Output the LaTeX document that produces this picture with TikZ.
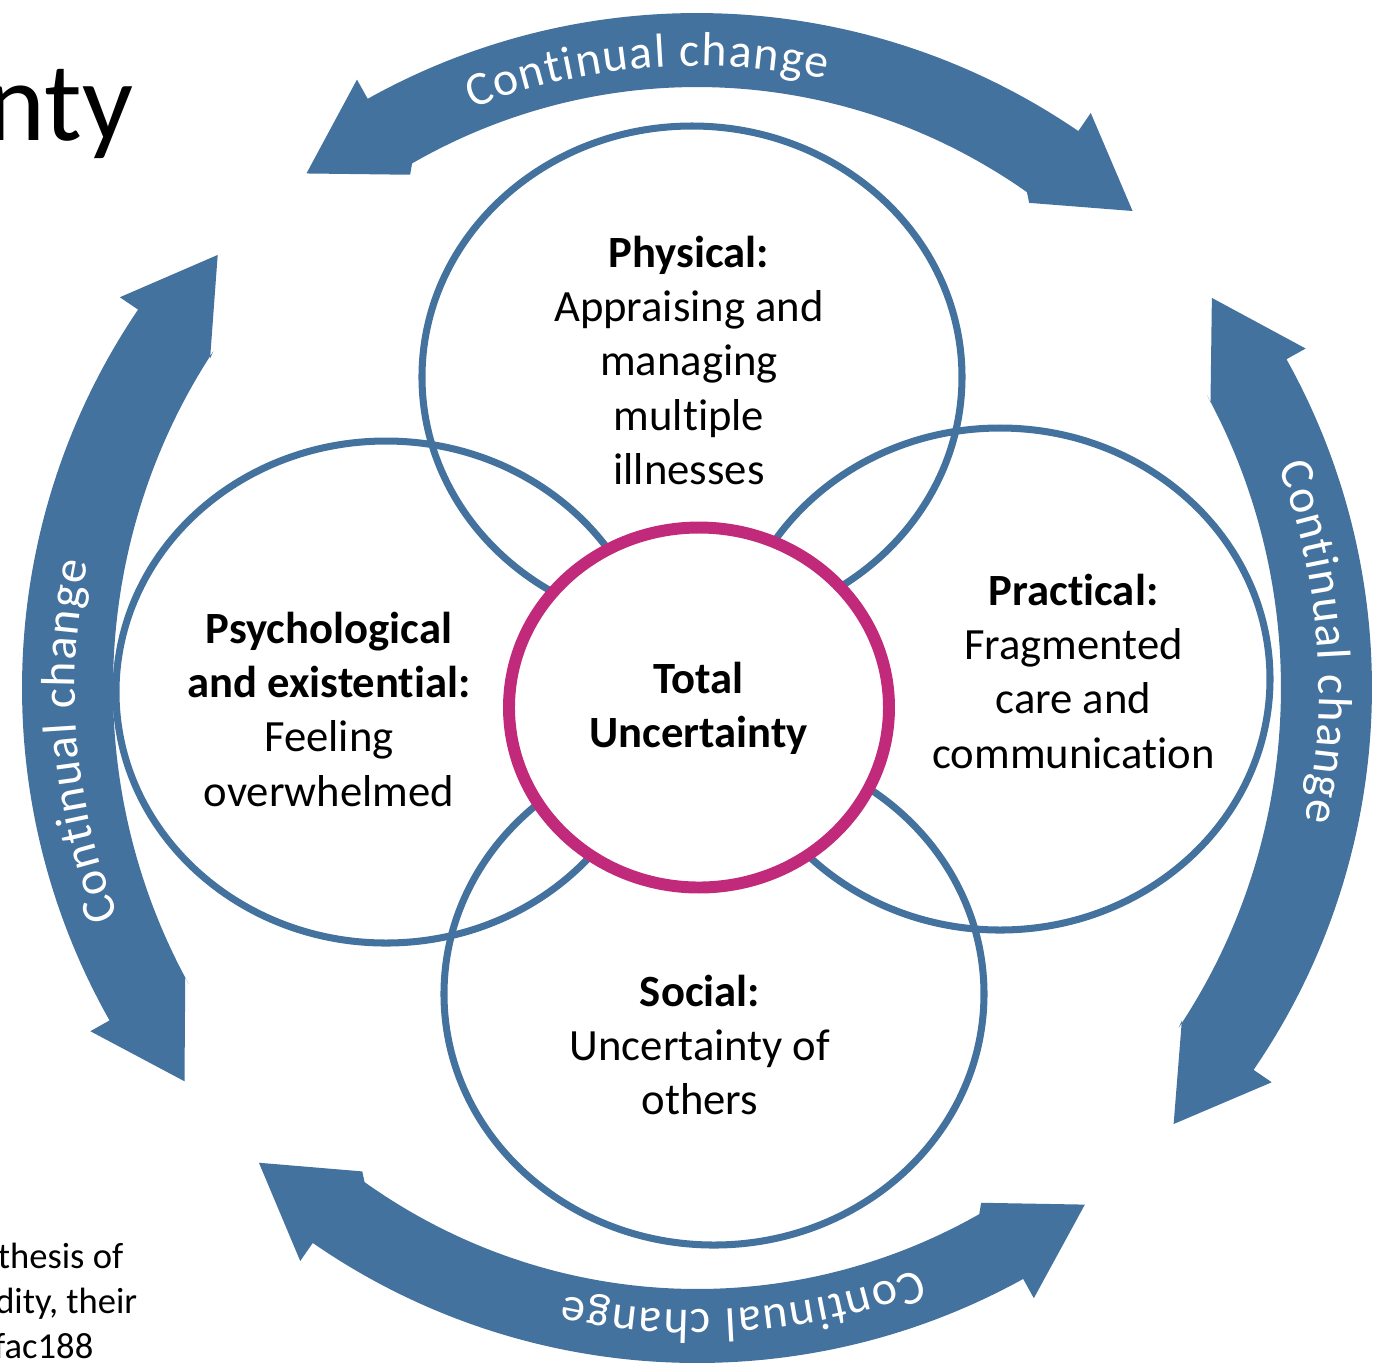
\documentclass[tikz,border=0pt]{standalone}
\usepackage{fontspec}
\setmainfont{Carlito}[Ligatures={NoCommon}]
\usetikzlibrary{decorations.text}
\definecolor{ringblue}{RGB}{67,114,158}
\definecolor{totalpink}{RGB}{193,42,123}
\newcommand{\lblfont}{\fontsize{12.7pt}{15.45pt}\selectfont}
\newcommand{\bandfont}{\fontsize{13.6pt}{16pt}\selectfont}
% block arc arrow centred on angle #1
\newcommand{\ringarrow}[1]{%
  \pgfmathsetmacro{\tipA}{#1+39.8}%
  \pgfmathsetmacro{\baseA}{#1+31.8}%
  \pgfmathsetmacro{\baseB}{#1-31.8}%
  \pgfmathsetmacro{\tipB}{#1-39.8}%
  \fill[ringblue] (\tipA:646) -- (\baseA:697) -- (\baseA:675)
    arc[start angle=\baseA, end angle=\baseB, radius=675]
    -- (\baseB:697) -- (\tipB:646) -- (\baseB:588)
    -- (\baseB:584 and 601)
    arc[start angle=\baseB, end angle=\baseA, x radius=584, y radius=601]
    -- (\baseA:588) -- cycle;
}
% text along the band, centred on angle #1, running clockwise
\newcommand{\ringtext}[1]{%
  \pgfmathsetmacro{\txA}{#1+16.6}%
  \pgfmathsetmacro{\txB}{#1-16.6}%
  \path[decorate, decoration={text along path, text color=white,
      text={|\bandfont|Continual change}, text align={fit to path}}]
    (\txA:622) arc[start angle=\txA, end angle=\txB, radius=622];
}
\begin{document}
\begin{tikzpicture}[x=0.01cm,y=0.01cm,
  circline/.style={draw=ringblue, line width=2pt},
  totalline/.style={draw=totalpink, fill=white, line width=3.4pt},
  lbl/.style={anchor=base, inner sep=0pt, font=\lblfont, text=black}]
\useasboundingbox (-697,-674) rectangle (688,688);

% four overlapping domains
\coordinate (physC) at (-5,311);
\coordinate (psychC) at (-311,-4);
\coordinate (pracC) at (303,9);
\coordinate (socC) at (17,-306);
\coordinate (totalC) at (2,-19.5);
\draw[circline] (physC) ellipse [x radius=270, y radius=251];
\draw[circline] (psychC) ellipse [x radius=270, y radius=251];
\draw[circline] (pracC) ellipse [x radius=270, y radius=251];
\draw[circline] (socC) ellipse [x radius=270, y radius=251];
\draw[totalline] (totalC) ellipse [x radius=190, y radius=180];

% labels
\node[lbl] (physT) at (-8,421) {\begin{tabular}[t]{@{}c@{}}\textbf{Physical:}\\ Appraising and\\ managing\\ multiple\\ illnesses\end{tabular}};
\node[lbl] (psychT) at (-368,45) {\begin{tabular}[t]{@{}c@{}}\textbf{Psychological}\\ \textbf{and existential:}\\ Feeling\\ overwhelmed\end{tabular}};
\node[lbl] (pracT) at (376.5,83) {\begin{tabular}[t]{@{}c@{}}\textbf{Practical:}\\ Fragmented\\ care and\\ communication\end{tabular}};
\node[lbl] (socT) at (3,-318) {\begin{tabular}[t]{@{}c@{}}\textbf{Social:}\\ Uncertainty of\\ others\end{tabular}};
\node[lbl] (totalT) at (1.5,-5) {\begin{tabular}[t]{@{}c@{}}\textbf{Total}\\ \textbf{Uncertainty}\end{tabular}};

% continual change arrows
\ringarrow{87.4}
\ringarrow{-2.65}
\ringarrow{267.1}
\ringarrow{177.7}
\ringtext{94.6}
\ringtext{4.25}
\ringtext{274.3}
\ringtext{184.95}

% slide fragments
\node[anchor=base east, inner sep=0pt, font=\fontsize{32pt}{38pt}\selectfont] (title) at (-563,548) {nty};
\node[anchor=base east, inner sep=0pt, font=\fontsize{10.4pt}{12.7pt}\selectfont] (cite1) at (-573,-580) {thesis of};
\node[anchor=base east, inner sep=0pt, font=\fontsize{10.4pt}{12.7pt}\selectfont] (cite2) at (-559,-625) {dity, their};
\node[anchor=base east, inner sep=0pt, font=\fontsize{10.4pt}{12.7pt}\selectfont] (cite3) at (-603,-670) {fac188};
\end{tikzpicture}
\end{document}
